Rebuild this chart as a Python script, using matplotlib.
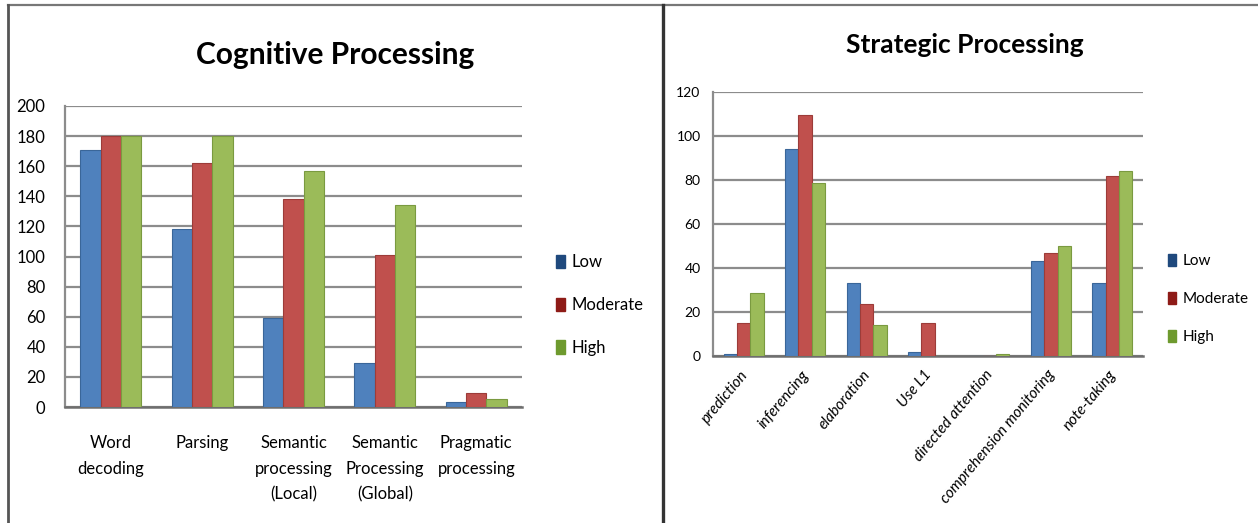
import numpy as np
import matplotlib
matplotlib.use("Agg")
import matplotlib.pyplot as plt
from matplotlib.lines import Line2D
from matplotlib.patches import Patch
from matplotlib.transforms import ScaledTranslation

plt.rcParams['font.family'] = ['Lato', 'DejaVu Sans']

# Cognitive processing data
cog_categories = ["Word\ndecoding", "Parsing", "Semantic\nprocessing\n(Local)",
                  "Semantic\nProcessing\n(Global)", "Pragmatic\nprocessing"]
cog_low = [171, 118, 59, 29, 3]
cog_moderate = [180, 162, 138, 101, 9]
cog_high = [180, 180, 157, 134, 5]
cog_ticks = [0, 20, 40, 60, 80, 100, 120, 140, 160, 180, 200]

# Strategic processing data
strat_categories = ["prediction", "inferencing", "elaboration", "Use L1",
                    "directed attention", "comprehension monitoring", "note-taking"]
strat_low = [1, 94, 33, 2, 0, 43, 33]
strat_moderate = [15, 109.5, 23.5, 15, 0, 47, 82]
strat_high = [28.5, 78.5, 14, 0, 1, 50, 84]
strat_ticks = [0, 20, 40, 60, 80, 100, 120]

series_names = ["Low", "Moderate", "High"]
bar_colors = ["#4F81BD", "#C0504D", "#9BBB59"]
edge_colors = ["#3A6699", "#9C3C39", "#7A9A40"]
legend_colors = ["#1F497D", "#8E1B17", "#6E9A2E"]

W, H = 1258, 523
fig = plt.figure(figsize=(W / 100, H / 100), dpi=100)
fig.patch.set_facecolor("white")


def px_axes(x0, y0, x1, y1):
    return fig.add_axes([x0 / W, 1 - y1 / H, (x1 - x0) / W, (y1 - y0) / H])


def style_axes(ax, ticks, tick_size, pad):
    ax.set_ylim(ticks[0], ticks[-1])
    ax.set_yticks(ticks)
    ax.yaxis.grid(True, color="#8C8C8C", linewidth=1.6, zorder=0)
    ax.set_axisbelow(True)
    for s in ("top", "right"):
        ax.spines[s].set_visible(False)
    ax.spines["left"].set_color("#8C8C8C")
    ax.spines["left"].set_linewidth(1.6)
    ax.spines["bottom"].set_color("#6E6E6E")
    ax.spines["bottom"].set_linewidth(1.8)
    ax.tick_params(axis="y", length=0, pad=pad, labelsize=tick_size)
    ax.tick_params(axis="x", length=0)


def draw_bars(ax, series, width):
    x = np.arange(len(series[0]))
    for i, vals in enumerate(series):
        ax.bar(x + (i - 1) * width, vals, width, color=bar_colors[i],
               edgecolor=edge_colors[i], linewidth=0.8, zorder=3)
    ax.set_xlim(-0.5, len(x) - 0.5)
    ax.set_xticks(x)


# Left chart
ax1 = px_axes(65, 106, 522, 407)
draw_bars(ax1, [cog_low, cog_moderate, cog_high], 0.222)
style_axes(ax1, cog_ticks, 12, 14)
ax1.set_xticklabels(cog_categories, fontsize=12, linespacing=1.75)
ax1.tick_params(axis="x", pad=20)

# Right chart
ax2 = px_axes(713, 92, 1143, 356)
draw_bars(ax2, [strat_low, strat_moderate, strat_high], 0.217)
style_axes(ax2, strat_ticks, 10, 9)
ax2.set_xticklabels(strat_categories, fontsize=11, style="italic",
                    rotation=50, ha="right", va="top", rotation_mode="anchor")
off = ScaledTranslation(-4 / 100, -7 / 100, fig.dpi_scale_trans)
for lab in ax2.get_xticklabels():
    lab.set_transform(lab.get_transform() + off)

# Titles
fig.text(335 / W, 1 - 55 / H, "Cognitive Processing", ha="center", va="center",
         fontsize=21.5, fontweight="bold")
fig.text(965 / W, 1 - 45 / H, "Strategic Processing", ha="center", va="center",
         fontsize=19, fontweight="bold")

# Legends
handles = [Patch(facecolor=c, edgecolor=c) for c in legend_colors]
fig.legend(handles, series_names, loc="center left",
           bbox_to_anchor=(548 / W, 1 - 305 / H), frameon=False, fontsize=12,
           handlelength=0.5, handleheight=0.85, handletextpad=0.4,
           labelspacing=1.6, borderpad=0)
fig.legend(handles, series_names, loc="center left",
           bbox_to_anchor=(1160 / W, 1 - 299 / H), frameon=False, fontsize=11,
           handlelength=0.55, handleheight=0.85, handletextpad=0.4,
           labelspacing=1.55, borderpad=0)

# Panel frames
fig.add_artist(Line2D([8 / W, 1], [1 - 5 / H, 1 - 5 / H], color="#777777",
                      linewidth=1.6, transform=fig.transFigure))
fig.add_artist(Line2D([8 / W, 8 / W], [0, 1 - 5 / H], color="#555555",
                      linewidth=2, transform=fig.transFigure))
fig.add_artist(Line2D([663 / W, 663 / W], [0, 1 - 5 / H], color="#333333",
                      linewidth=2.4, transform=fig.transFigure))

fig.savefig("out.png", dpi=100, facecolor="white")
